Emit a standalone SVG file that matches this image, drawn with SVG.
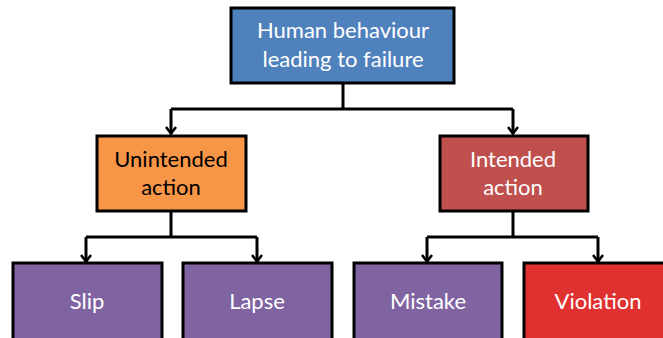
<svg xmlns="http://www.w3.org/2000/svg" width="663" height="338" viewBox="0 0 663 338">
<defs>
<marker id="arr" viewBox="0 0 12 10" refX="6" refY="9" markerWidth="12" markerHeight="10" markerUnits="userSpaceOnUse" orient="0">
<path d="M1,2 L6,8.5 L11,2" fill="none" stroke="#000" stroke-width="2.6"/>
</marker>
<style>
.box{stroke:#000;stroke-width:3}
.t{font-family:Lato,"Open Sans","Liberation Sans",sans-serif;font-size:22px;text-anchor:middle}
.w{fill:#fff}
.k{fill:#000}
.c{fill:none;stroke:#000;stroke-width:3}
</style>
</defs>
<rect width="663" height="338" fill="#fff"/>
<g id="connectors">
<path class="c" d="M343,83 V109"/>
<path class="c" d="M171,109 H513"/>
<path class="c" d="M171,109 V134" marker-end="url(#arr)"/>
<path class="c" d="M513,109 V134" marker-end="url(#arr)"/>
<path class="c" d="M171,211 V237"/>
<path class="c" d="M86,237 H257"/>
<path class="c" d="M86,237 V262" marker-end="url(#arr)"/>
<path class="c" d="M257,237 V262" marker-end="url(#arr)"/>
<path class="c" d="M513,211 V237"/>
<path class="c" d="M427,237 H598"/>
<path class="c" d="M427,237 V262" marker-end="url(#arr)"/>
<path class="c" d="M598,237 V262" marker-end="url(#arr)"/>
</g>
<g id="root">
<rect class="box" x="231" y="8" width="223" height="75" fill="#4F81BD"/>
<text class="t w" x="343" y="38">Human behaviour</text>
<text class="t w" x="343" y="67">leading to failure</text>
</g>
<g id="unintended">
<rect class="box" x="97" y="136" width="149" height="75" fill="#F79646"/>
<text class="t k" x="171" y="167">Unintended</text>
<text class="t k" x="171" y="195">action</text>
</g>
<g id="intended">
<rect class="box" x="440" y="136" width="148" height="75" fill="#C0504D"/>
<text class="t w" x="513" y="167">Intended</text>
<text class="t w" x="513" y="195">action</text>
</g>
<g id="slip">
<rect class="box" x="13" y="263" width="149" height="80" fill="#8064A2"/>
<text class="t w" x="87" y="309">Slip</text>
</g>
<g id="lapse">
<rect class="box" x="183" y="263" width="149" height="80" fill="#8064A2"/>
<text class="t w" x="257" y="309">Lapse</text>
</g>
<g id="mistake">
<rect class="box" x="354" y="263" width="148" height="80" fill="#8064A2"/>
<text class="t w" x="428" y="309">Mistake</text>
</g>
<g id="violation">
<rect class="box" x="524" y="263" width="149" height="80" fill="#E0302F"/>
<text class="t w" x="598" y="309">Violation</text>
</g>
</svg>
